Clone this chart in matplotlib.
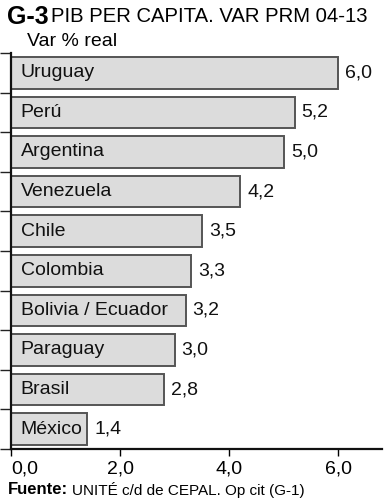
import matplotlib
matplotlib.use("Agg")
import matplotlib.pyplot as plt

countries = ["Uruguay", "Perú", "Argentina", "Venezuela", "Chile", "Colombia",
             "Bolivia / Ecuador", "Paraguay", "Brasil", "México"]
values = [6.0, 5.2, 5.0, 4.2, 3.5, 3.3, 3.2, 3.0, 2.8, 1.4]
xticks = [0, 2, 4, 6]

plt.rcParams["font.family"] = ["Liberation Sans", "DejaVu Sans"]

fig = plt.figure(figsize=(3.92, 5.0), dpi=100)
ax = fig.add_axes([11 / 392, 51 / 500, 371 / 392, 396 / 500])

y = list(range(len(countries)))
ax.barh(y, values, height=0.8, color="#dcdcdc", edgecolor="#555555", linewidth=1.4)
ax.set_ylim(len(countries) - 0.5, -0.5)
ax.set_xlim(0, 6.8)

for i, (c, v) in enumerate(zip(countries, values)):
    ax.annotate(c, (0, i), xytext=(7, 0), textcoords="offset points",
                ha="left", va="center", fontsize=14, color="#111111")
    ax.annotate(f"{v:.1f}".replace(".", ","), (v, i), xytext=(5, 0),
                textcoords="offset points", ha="left", va="center",
                fontsize=14, color="#111111")

ax.set_yticks([])
ax.set_yticks([i - 0.5 for i in range(len(countries) + 1)], minor=True)
ax.tick_params(axis="y", which="minor", length=8, width=1, color="#222222")
ax.set_xticks(xticks)
ax.set_xticklabels([f"{t:.1f}".replace(".", ",") for t in xticks], fontsize=14)
ax.get_xticklabels()[0].set_horizontalalignment("left")
ax.tick_params(axis="x", length=5, width=1, pad=3)
for s in ["top", "right"]:
    ax.spines[s].set_visible(False)
for s in ["left", "bottom"]:
    ax.spines[s].set_linewidth(1.6)
    ax.spines[s].set_color("#111111")

g3 = fig.text(0.018, 0.966, "G-3", fontsize=18, fontweight="bold", va="center", ha="left")
ax.annotate("PIB PER CAPITA. VAR PRM 04-13", (1, 0.5), xycoords=g3, xytext=(2, 0),
            textcoords="offset points", fontsize=14.6, va="center", ha="left",
            annotation_clip=False)
fig.text(0.069, 0.916, "Var % real", fontsize=14, va="center", ha="left")
fu = fig.text(0.02, 0.02, "Fuente:", fontsize=12, fontweight="bold", va="center", ha="left")
ax.annotate("UNITÉ c/d de CEPAL. Op cit (G-1)", (1, 0.5), xycoords=fu, xytext=(3, 0),
            textcoords="offset points", fontsize=11, va="center", ha="left",
            annotation_clip=False)

fig.savefig("out.png", dpi=100)
